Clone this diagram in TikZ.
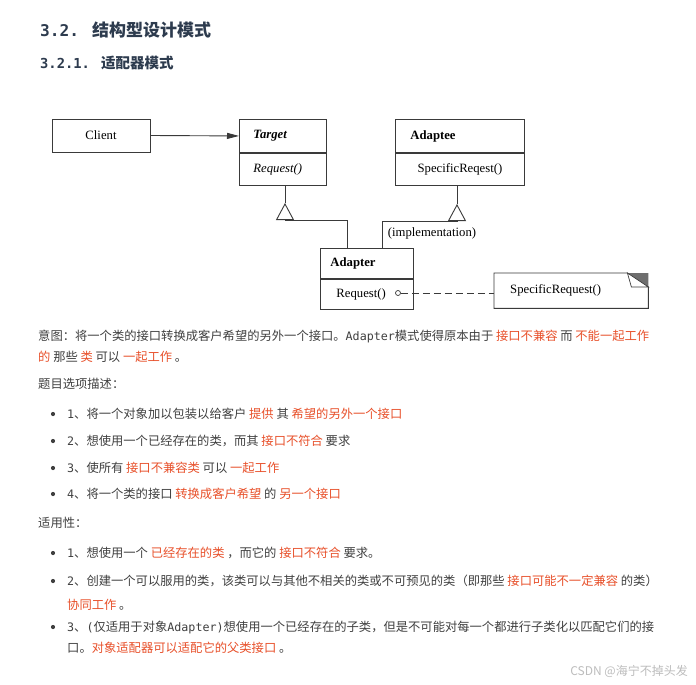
\documentclass[tikz,border=0pt]{standalone}
\usepackage{fontspec}
\setmainfont{Noto Sans CJK SC}
\newfontfamily\mono[Scale=0.95]{DejaVu Sans Mono}
\newfontfamily\umlfont{Liberation Serif}
\usepackage{tikz}
\usetikzlibrary{arrows.meta, positioning, calc}
\definecolor{cline}{HTML}{3A3A3A}
\definecolor{ctext}{HTML}{404040}
\definecolor{ctitle}{HTML}{2D3B4E}
\definecolor{chl}{HTML}{E8502A}
\definecolor{cmark}{HTML}{BDBDBD}
\definecolor{cfold}{HTML}{6E6E6E}
\newcommand{\hlt}[1]{\textcolor{chl}{#1}}
\newcommand{\bodysize}{\fontsize{12.3pt}{15pt}\selectfont}
\newcommand{\umlsize}{\fontsize{12.7pt}{15pt}\selectfont}
\tikzset{
  uline/.style={draw=cline, line width=0.9pt},
  cbox/.style={uline, inner ysep=0pt, font=\umlfont\umlsize},
  clshead/.style={cbox, minimum height=33pt, align=left, font=\umlfont\umlsize\bfseries},
  clsops/.style={cbox, minimum height=32pt},
  inh/.style={uline, -{Triangle[open, length=17pt, width=18pt]}},
  assoc/.style={uline, -{Triangle[length=12pt, width=6pt]}},
  txt/.style={anchor=west, inner sep=0pt, font=\bodysize, text=ctext},
  bul/.style={circle, fill=ctext, inner sep=0pt, minimum size=4.2pt},
}

\begin{document}
\begin{tikzpicture}[x=1pt, y=-1pt]
  \fill[white] (0,0) rectangle (696,685);
  \useasboundingbox (0,0) rectangle (696,685);

  % headings
  \node[anchor=west, inner sep=0pt, text=ctitle, font=\fontsize{17pt}{20pt}\selectfont\bfseries] (title) at (40,30) {{\mono 3.2. }结构型设计模式};
  \node[anchor=west, inner sep=0pt, text=ctitle, font=\fontsize{14.5pt}{17pt}\selectfont\bfseries] (subtitle) at (40,63) {{\mono 3.2.1. }适配器模式};

  % class diagram
  \node[cbox, minimum width=98pt, minimum height=33pt] (client) at (101,135.5) {Client};
  \node[clshead, anchor=north west, inner xsep=14pt, text width=59pt] (target) at (239,119) {\itshape Target};
  \node[clsops, anchor=north west, inner xsep=14pt, text width=59pt, align=left] (targetops) at (target.south west) {\itshape Request()};
  \node[clshead, anchor=north west, inner xsep=15pt, text width=99pt] (adaptee) at (395,119) {Adaptee};
  \node[clsops, anchor=north west, inner xsep=15pt, text width=99pt, align=center] (adapteeops) at (adaptee.south west) {SpecificReqest()};
  \node[clshead, anchor=north west, inner xsep=10pt, text width=73pt, minimum height=30pt] (adapter) at (320,248) {Adapter};
  \node[clsops, anchor=north west, inner xsep=16pt, text width=61pt, align=left, minimum height=30pt] (adapterops) at (adapter.south west) {Request()};
  \node[circle, draw=cline, line width=0.7pt, inner sep=0pt, minimum size=5pt] (reqdot) at (398,293) {};
  \node[anchor=north west, minimum height=35pt, inner xsep=16pt, text width=122pt, align=left, font=\umlfont\umlsize] (note) at (494,273) {SpecificRequest()};
  \node[font=\umlfont\umlsize] (impl) at (432,233) {(implementation)};

  \draw[uline] (note.north west) -- ($(note.north east)+(-21,0)$) -- ($(note.north east)+(0,14)$)
    -- (note.south east) -- (note.south west) -- cycle;
  \fill[cfold] ($(note.north east)+(-21,0)$) -- (note.north east) -- ($(note.north east)+(0,14)$) -- cycle;
  \draw[uline, fill=white, line width=0.7pt] ($(note.north east)+(-21,0)$) -- ($(note.north east)+(-17,14)$) -- ($(note.north east)+(0,14)$) -- cycle;

  \draw[assoc] (client.east) -- (target.west);
  \draw[uline, dash pattern=on 7pt off 4pt] (reqdot.east) -- (reqdot -| note.west);

  \coordinate (tgtbase) at (285,220);
  \coordinate (tgttip) at (285,203);
  \draw[uline] ($(adapter.north west)+(27,0)$) |- (tgtbase);
  \draw[inh] (tgtbase) -- (tgttip);
  \draw[uline] (tgttip) -- (tgttip |- targetops.south);

  \coordinate (adtbase) at (457,221);
  \coordinate (adttip) at (457,204);
  \draw[uline] ($(adapter.north west)+(62,0)$) |- (adtbase);
  \draw[inh] (adtbase) -- (adttip);
  \draw[uline] (adttip) -- (adttip |- adapteeops.south);

  % text
  \node[txt] (intent1) at (38,336) {意图：将一个类的接口转换成客户希望的另外一个接口。{\mono Adapter}模式使得原本由于 \hlt{接口不兼容} 而 \hlt{不能一起工作}};
  \node[txt] (intent2) at (38,357) {\hlt{的} 那些 \hlt{类} 可以 \hlt{一起工作} 。};

  \node[txt] (opthead) at (38,384) {题目选项描述：};
  \foreach \y in {414,441,468,494,553,581,627}
    \node[bul] (bul\y) at (53,\y) {};
  \node[txt] (opt1) at (67,414) {{\mono 1}、将一个对象加以包装以给客户 \hlt{提供} 其 \hlt{希望的另外一个接口}};
  \node[txt] (opt2) at (67,441) {{\mono 2}、想使用一个已经存在的类，而其 \hlt{接口不符合} 要求};
  \node[txt] (opt3) at (67,468) {{\mono 3}、使所有 \hlt{接口不兼容类} 可以 \hlt{一起工作}};
  \node[txt] (opt4) at (67,494) {{\mono 4}、将一个类的接口 \hlt{转换成客户希望} 的 \hlt{另一个接口}};

  \node[txt] (usehead) at (38,523) {适用性：};
  \node[txt] (use1) at (67,553) {{\mono 1}、想使用一个 \hlt{已经存在的类} ，而它的 \hlt{接口不符合} 要求。};
  \node[txt] (use2a) at (67,581) {{\mono 2}、创建一个可以服用的类，该类可以与其他不相关的类或不可预见的类（即那些 \hlt{接口可能不一定兼容} 的类）};
  \node[txt] (use2b) at (67,605) {\hlt{协同工作} 。};
  \node[txt] (use3a) at (67,627) {{\mono 3}、{\mono (}仅适用于对象{\mono Adapter)}想使用一个已经存在的子类，但是不可能对每一个都进行子类化以匹配它们的接};
  \node[txt] (use3b) at (67,648) {口。\hlt{对象适配器可以适配它的父类接口} 。};

  \node[anchor=east, inner sep=0pt, text=cmark, font=\fontsize{12pt}{14pt}\selectfont] (mark) at (688,671) {CSDN @海宁不掉头发};
\end{tikzpicture}
\end{document}
